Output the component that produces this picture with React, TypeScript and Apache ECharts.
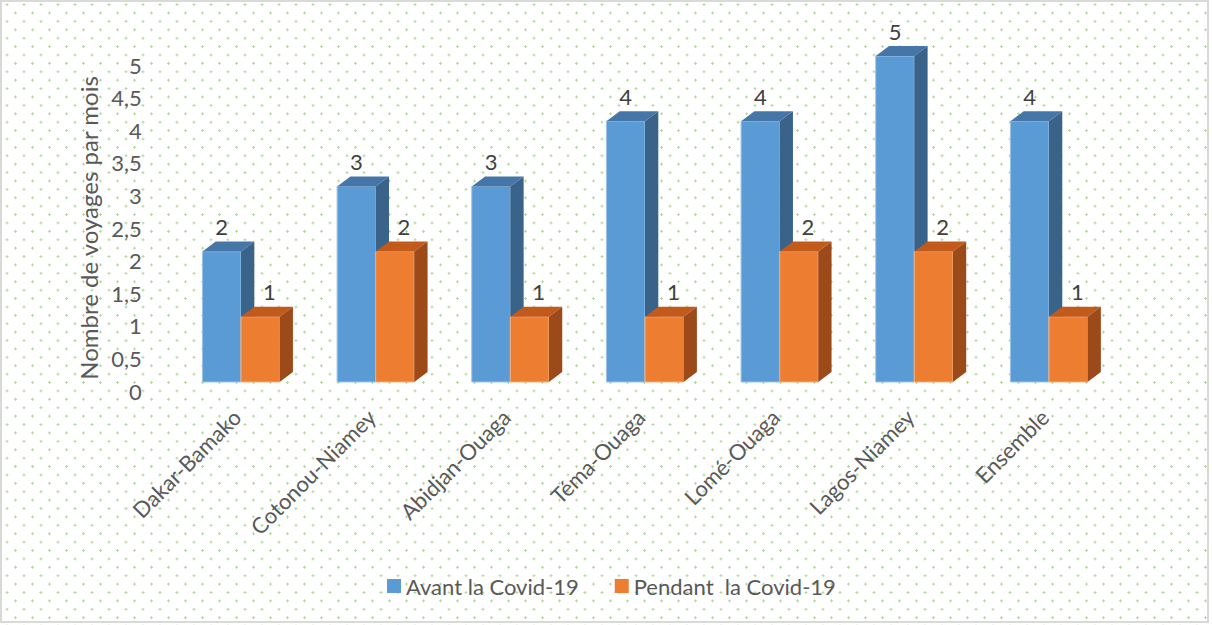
import React, { useEffect, useRef } from "react";
import * as echarts from "echarts";

const categories = [
  "Dakar-Bamako",
  "Cotonou-Niamey",
  "Abidjan-Ouaga",
  "Téma-Ouaga",
  "Lomé-Ouaga",
  "Lagos-Niamey",
  "Ensemble",
];
const avant = [2, 3, 3, 4, 4, 5, 4];
const pendant = [1, 2, 1, 1, 2, 2, 1];
const seriesNames = ["Avant la Covid-19", "Pendant  la Covid-19"];
const yAxisTitle = "Nombre de voyages par mois";
const yMin = 0;
const yMax = 5;
const yStep = 0.5;

const FONT = "Lato, 'Open Sans', sans-serif";

type Palette = { front: string; top: string; side: string; edge: string };
const bluePal: Palette = { front: "#5B9BD5", top: "#4676A8", side: "#3A6389", edge: "#9DC3E6" };
const orangePal: Palette = { front: "#ED7D31", top: "#C25A1C", side: "#9C4A19", edge: "#F4B183" };

function makeRender(sideIdx: number, pal: Palette, labelDx: number) {
  return (params: any, api: any) => {
    const idx = api.value(0);
    const v = api.value(1);
    const base = api.coord([idx, 0]);
    const top = api.coord([idx, v]);
    const band = api.size([1, 0])[0];
    const w = band * 0.2866;
    const cx = base[0];
    const x0 = sideIdx === 0 ? cx - w : cx;
    const x1 = x0 + w;
    const off = 9;
    const yb = base[1] - off;
    const yt = top[1] - off;
    const dx = 13.3;
    const dy = -10;
    return {
      type: "group",
      children: [
        {
          type: "polygon",
          shape: { points: [[x0, yb], [x1, yb], [x1, yt], [x0, yt]] },
          style: { fill: pal.front, stroke: pal.edge, lineWidth: 1 },
        },
        {
          type: "polygon",
          shape: { points: [[x0, yt], [x1, yt], [x1 + dx, yt + dy], [x0 + dx, yt + dy]] },
          style: { fill: pal.top },
        },
        {
          type: "polygon",
          shape: { points: [[x1, yb], [x1 + dx, yb + dy], [x1 + dx, yt + dy], [x1, yt]] },
          style: { fill: pal.side },
        },
        {
          type: "text",
          style: {
            text: String(v),
            x: (x0 + x1) / 2 + labelDx,
            y: yt - 25,
            align: "center",
            verticalAlign: "middle",
            textAlign: "center",
            textVerticalAlign: "middle",
            fontSize: 22,
            fontFamily: FONT,
            fill: "#404040",
          },
        },
      ],
    };
  };
}

export default function App() {
  const ref = useRef<HTMLDivElement>(null);
  useEffect(() => {
    if (!ref.current) return;
    const chart = echarts.init(ref.current, undefined, { renderer: "svg" });
    const option: any = {
      animation: false,
      backgroundColor: "transparent",
      textStyle: { fontFamily: FONT },
      graphic: [
        {
          type: "rect",
          shape: { x: 1, y: 1, width: 1207, height: 621 },
          style: { fill: "none", stroke: "#D9D9D9", lineWidth: 2 },
          silent: true,
        },
      ],
      grid: { left: 173.7, right: 95.7, top: 65, bottom: 234 },
      legend: {
        left: 387,
        top: 575,
        padding: 0,
        itemWidth: 14,
        itemHeight: 14,
        itemGap: 36,
        icon: "rect",
        textStyle: { fontSize: 22, color: "#595959", fontFamily: FONT },
        data: seriesNames,
      },
      xAxis: {
        type: "category",
        data: categories,
        axisLine: { show: false },
        axisTick: { show: false },
        splitLine: { show: false },
        axisLabel: {
          rotate: 45,
          interval: 0,
          margin: 18,
          padding: [0, 6, 0, 0],
          fontSize: 22,
          color: "#595959",
          fontFamily: FONT,
        },
      },
      yAxis: {
        type: "value",
        min: yMin,
        max: yMax,
        interval: yStep,
        name: yAxisTitle,
        nameLocation: "middle",
        nameGap: 73,
        nameTextStyle: { fontSize: 24, color: "#595959", fontFamily: FONT },
        axisLine: { show: false },
        axisTick: { show: false },
        splitLine: { show: false },
        axisLabel: {
          margin: 32,
          fontSize: 22,
          color: "#595959",
          fontFamily: FONT,
          formatter: (val: number) => String(val).replace(".", ","),
        },
      },
      series: [
        {
          name: seriesNames[0],
          type: "custom",
          itemStyle: { color: bluePal.front },
          renderItem: makeRender(0, bluePal, 0),
          data: avant.map((v, i) => [i, v]),
          encode: { x: 0, y: 1 },
        },
        {
          name: seriesNames[1],
          type: "custom",
          itemStyle: { color: orangePal.front },
          renderItem: makeRender(1, orangePal, 9),
          data: pendant.map((v, i) => [i, v]),
          encode: { x: 0, y: 1 },
        },
      ],
    };
    chart.setOption(option);
    return () => chart.dispose();
  }, []);

  const dots =
    "radial-gradient(circle, #B4D89C 0, #B4D89C 1px, transparent 1.4px)";
  return (
    <div
      style={{
        position: "absolute",
        left: 0,
        top: 0,
        width: 1212,
        height: 625,
        backgroundColor: "#FFFFFF",
        backgroundImage: `${dots}, ${dots}`,
        backgroundSize: "17px 16.8px, 17px 16.8px",
        backgroundPosition: "7px 4.6px, -1.5px -3.8px",
      }}
    >
      <div ref={ref} style={{ width: 1212, height: 625 }} />
    </div>
  );
}
